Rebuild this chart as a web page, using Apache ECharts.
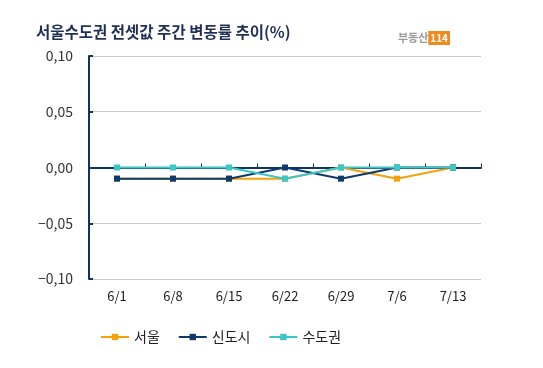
<!DOCTYPE html>
<html>
<head>
<meta charset="utf-8">
<script src="https://cdn.jsdelivr.net/npm/echarts@6/dist/echarts.min.js"></script>
<style>html,body{margin:0;padding:0;background:#fff;}#c{width:543px;height:368px;}</style>
</head>
<body>
<div id="c"></div>
<script>
const categories = ['6/1','6/8','6/15','6/22','6/29','7/6','7/13'];
const seoul = [-0.01,-0.01,-0.01,-0.01,0,-0.01,0];
const newTown = [-0.01,-0.01,-0.01,0,-0.01,0,0];
const capital = [0,0,0,-0.01,0,0,0];
const yTicks = [-0.1,-0.05,0,0.05,0.1];

const FONT = '"Noto Sans CJK KR", "Noto Sans", sans-serif';
const chart = echarts.init(document.getElementById('c'));
function mk(name, data, color){
  return {name, type:'line', data, xAxisIndex:0, symbol:'rect', symbolSize:6,
    showSymbol:true, lineStyle:{color, width:2}, itemStyle:{color}};
}
chart.setOption({
  animation:false,
  backgroundColor:'#fff',
  title:[{text:'서울수도권 전셋값 주간 변동률 추이(%)', left:31, top:19,
    textStyle:{fontFamily:FONT, fontSize:15.5, fontWeight:'bold', color:'#1f2f55'}},
    {text:'{a|부동산}{b|114}', right:88, top:26,
     textStyle:{rich:{a:{fontFamily:FONT,fontSize:11,color:'#9a9a9a',fontWeight:'bold'},
       b:{fontFamily:FONT,fontSize:10,color:'#fff',backgroundColor:'#f08a1c',padding:[2,2],fontWeight:'bold'}}}}],
  grid:{left:89, right:62, top:56, bottom:89},
  legend:{left:95, top:325, itemWidth:28, itemHeight:8, itemGap:18,
    textStyle:{fontFamily:FONT, fontSize:14, color:'#222'},
    data:['서울','신도시','수도권']},
  xAxis:[{type:'category', data:categories, boundaryGap:true,
      axisLine:{onZero:true, lineStyle:{color:'#0e3460', width:2}},
      axisTick:{show:true, inside:true, length:4, lineStyle:{color:'#0e3460'}},
      axisLabel:{show:false}},
    {type:'category', data:categories, position:'bottom', boundaryGap:true,
      axisLine:{show:false}, axisTick:{show:false},
      axisLabel:{fontFamily:FONT, fontSize:13, color:'#222', margin:11}}],
  yAxis:{type:'value', min:-0.1, max:0.1, interval:0.05,
    axisLine:{show:true, lineStyle:{color:'#0e3460', width:2}},
    axisTick:{show:true, inside:true, length:4, lineStyle:{color:'#0e3460', width:2}},
    splitLine:{lineStyle:{color:'#c8c8c8'}},
    axisLabel:{fontFamily:FONT, fontSize:14, color:'#333', margin:16,
      formatter:v=>{const t=yTicks.find(x=>Math.abs(x-v)<1e-9); const n=(t===undefined?v:t); return n.toFixed(2).replace('.',',').replace('-','−');}}},
  series:[mk('서울', seoul, '#f5a10a'), mk('신도시', newTown, '#0e3a6e'), mk('수도권', capital, '#3cc6c8')]
});
</script>
</body>
</html>
